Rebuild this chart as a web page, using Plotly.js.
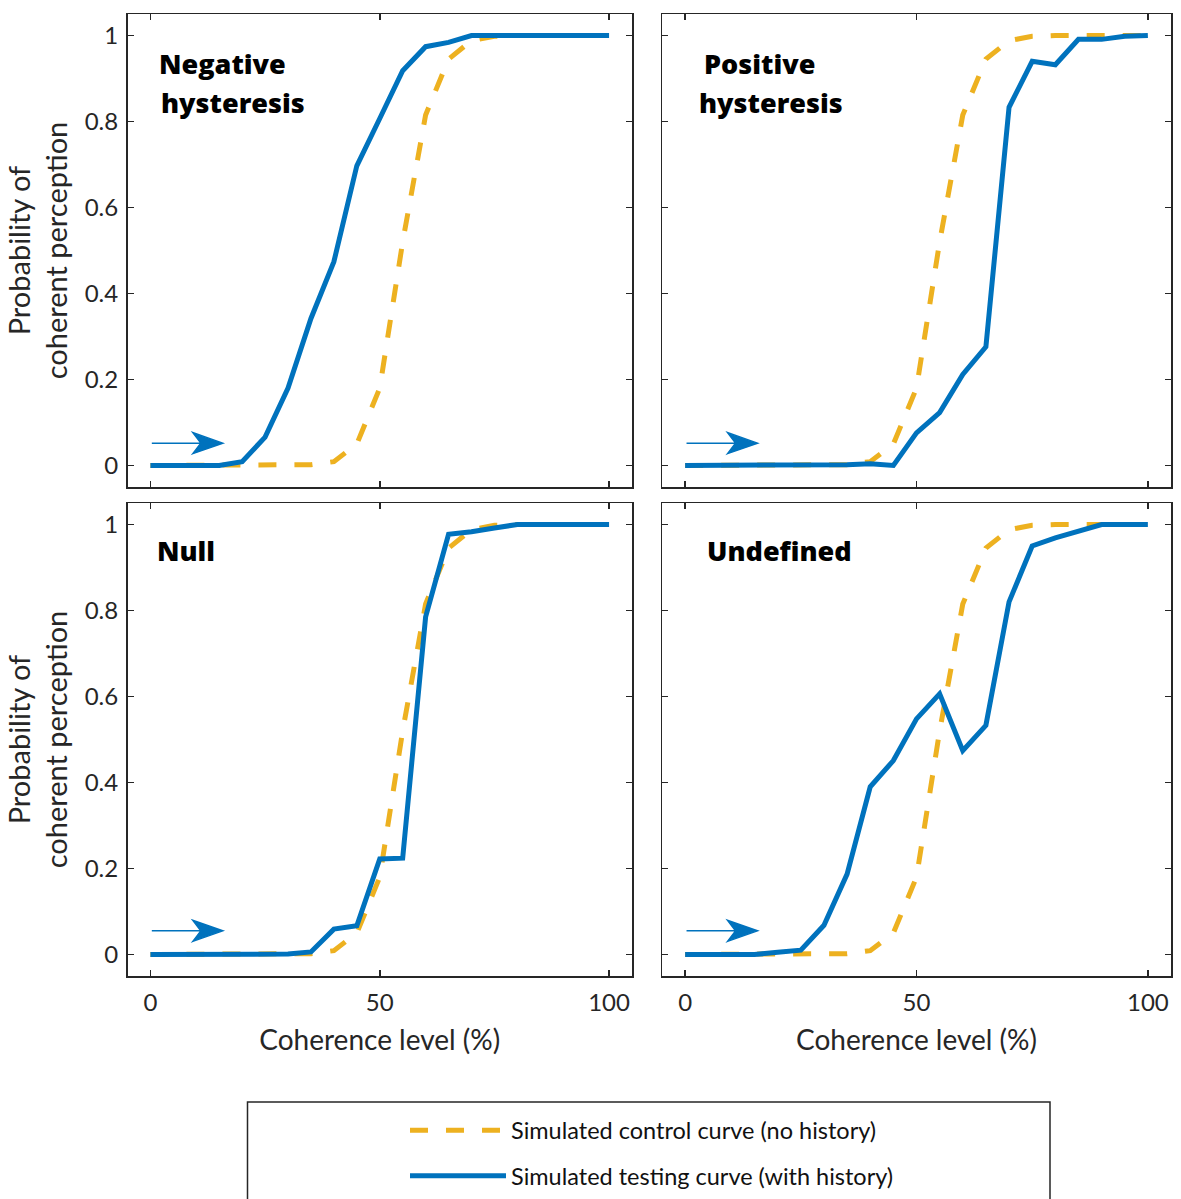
<!DOCTYPE html>
<html>
<head>
<meta charset="utf-8">
<script src="https://cdn.plot.ly/plotly-3.0.1.min.js"></script>
<style>html,body{margin:0;padding:0;background:#fff;}</style>
</head>
<body>
<div id="chart" style="width:1181px;height:1199px;"></div>
<script>
// ---------------- data ----------------
const coherence = [0,5,10,15,20,25,30,35,40,45,50,55,60,65,70,75,80,85,90,95,100];
const controlCurve     = [0,0,0,0,0,0,0.001,0.002,0.009,0.05,0.18,0.52,0.815,0.945,0.988,0.998,1,1,1,1,1];
const negativeTesting  = [0,0,0,0,0.009,0.066,0.18,0.342,0.474,0.697,0.807,0.918,0.974,0.984,1,1,1,1,1,1,1];
const positiveTesting  = [0,0,0,0,0,0,0,0.002,0.004,0,0.076,0.123,0.212,0.276,0.833,0.94,0.932,0.991,0.991,0.998,1];
const nullTesting      = [0,0,0,0,0,0,0.001,0.006,0.059,0.067,0.222,0.224,0.785,0.977,0.983,0.992,1,1,1,1,1];
const undefinedTesting = [0,0,0,0,0.005,0.01,0.068,0.187,0.39,0.451,0.548,0.606,0.474,0.533,0.82,0.95,0.969,0.985,1,1,1];
const panelLabels = [["Negative","hysteresis"],["Positive","hysteresis"],["Null"],["Undefined"]];
const seriesNames = ["Simulated control curve (no history)","Simulated testing curve (with history)"];
const xTickVals = [0,50,100];
const yTickVals = [0,0.2,0.4,0.6,0.8,1];
const xTitle = "Coherence level (%)";
const yTitle = "Probability of<br>coherent perception";
const arrowStart = [0.3,0.3,0.3,0.3];
const arrowLevel = [0.052,0.052,0.055,0.055];

// ---------------- layout helpers ----------------
const W = 1181, H = 1199;
const px = p => p / W;
const py = p => 1 - p / H;
const FONT = "Lato, 'Open Sans', sans-serif";
const LABELFONT = "'Open Sans', Lato, sans-serif";
const AX = '#262626';
const BLUE = '#0072BD', YELLOW = '#EDB120';

const testing = [negativeTesting, positiveTesting, nullTesting, undefinedTesting];
const xDomains = [[px(127.5), px(632)], [px(662), px(1171)]];
const yDomains = [[py(487), py(14)], [py(976), py(503)]];
const labelPos = [[[157,64],[159,103]], [[702,64],[697,103]], [[155,550]], [[705,550]]];

const traces = [];
const layout = {
  width: W, height: H,
  margin: {l:0, r:0, t:0, b:0},
  paper_bgcolor: '#fff', plot_bgcolor: '#fff',
  font: {family: FONT, color: AX},
  showlegend: true,
  legend: {
    x: px(405), xanchor: 'left', y: py(1108.5), yanchor: 'top',
    bgcolor: 'rgba(0,0,0,0)', borderwidth: 0,
    font: {family: FONT, size: 23.5, color: '#111'},
    itemwidth: 96, tracegroupgap: 12, traceorder: 'grouped'
  },
  shapes: [], annotations: []
};

for (let k = 0; k < 4; k++) {
  const sfx = k === 0 ? '' : String(k + 1);
  const col = k % 2, row = Math.floor(k / 2);
  traces.push({
    x: coherence, y: controlCurve, type: 'scatter', mode: 'lines',
    name: seriesNames[0], legendgroup: 'control', showlegend: k === 0,
    xaxis: 'x' + sfx, yaxis: 'y' + sfx,
    line: {color: YELLOW, width: 5, dash: '18px,18px'}, hoverinfo: 'x+y'
  });
  traces.push({
    x: coherence, y: testing[k], type: 'scatter', mode: 'lines',
    name: seriesNames[1], legendgroup: 'testing', showlegend: k === 0,
    xaxis: 'x' + sfx, yaxis: 'y' + sfx,
    line: {color: BLUE, width: 5}, hoverinfo: 'x+y'
  });
  const common = {
    showline: true, mirror: 'ticks', linecolor: AX, linewidth: 1.5,
    ticks: 'inside', ticklen: 6, tickwidth: 1.5, tickcolor: AX,
    showgrid: false, zeroline: false, fixedrange: true,
    tickfont: {family: FONT, size: 24, color: AX}
  };
  layout['xaxis' + sfx] = Object.assign({}, common, {
    domain: xDomains[col], anchor: 'y' + sfx, range: [-5, 105],
    tickmode: 'array', tickvals: xTickVals,
    showticklabels: row === 1, ticklabelstandoff: 5,
    title: row === 1 ? {text: xTitle, font: {family: FONT, size: 28, color: AX}, standoff: 15} : {text: ''}
  });
  layout['yaxis' + sfx] = Object.assign({}, common, {
    domain: yDomains[row], anchor: 'x' + sfx, range: [-0.05, 1.05],
    tickmode: 'array', tickvals: yTickVals,
    showticklabels: col === 0, ticklabelstandoff: 3,
    title: col === 0 ? {text: yTitle, font: {family: FONT, size: 29, color: AX}, standoff: 8} : {text: ''}
  });
  // panel labels
  panelLabels[k].forEach((t, i) => {
    layout.annotations.push({
      text: t, xref: 'paper', yref: 'paper',
      x: px(labelPos[k][i][0]), y: py(labelPos[k][i][1]),
      xanchor: 'left', yanchor: 'middle', showarrow: false,
      font: {family: LABELFONT, size: 27, color: '#000', weight: 800}
    });
  });
  // direction arrow (pixel-sized, anchored in data space)
  layout.shapes.push({
    type: 'path', xref: 'x' + sfx, yref: 'y' + sfx,
    xsizemode: 'pixel', ysizemode: 'pixel',
    xanchor: arrowStart[k], yanchor: arrowLevel[k],
    path: 'M0,0L52,0M41,-10.5L71,0L41,10.5L49,0Z',
    line: {color: BLUE, width: 1.5}, fillcolor: BLUE
  });
}

// legend frame
layout.shapes.push({
  type: 'rect', xref: 'paper', yref: 'paper',
  x0: px(247.5), x1: px(1050), y0: py(1102), y1: py(1230),
  line: {color: AX, width: 1.5}, fillcolor: 'rgba(0,0,0,0)', layer: 'below'
});

Plotly.newPlot('chart', traces, layout, {displayModeBar: false, staticPlot: true});
</script>
</body>
</html>
